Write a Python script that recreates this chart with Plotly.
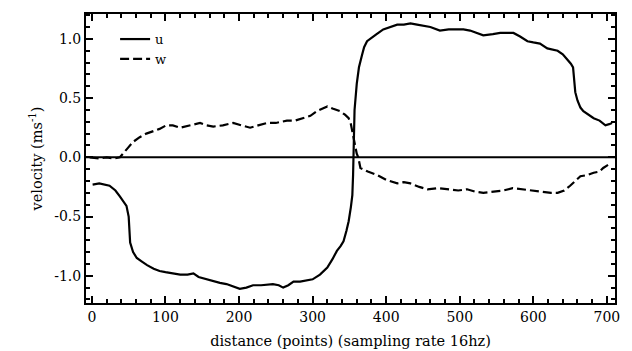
import plotly.graph_objects as go

# u velocity (solid)
u_x = [1, 10, 24, 32, 38, 44, 47, 50, 52, 56, 61, 68, 75, 84, 92, 100, 110, 120, 130, 138, 145, 156, 165, 174, 183, 192, 201, 210, 219, 230, 246, 254, 260, 267, 274, 283, 292, 300, 310, 320, 327, 333, 338, 342, 346, 349, 352, 354, 355, 356, 357, 360, 363, 367, 370, 374, 380, 387, 396, 405, 415, 424, 433, 442, 450, 460, 473, 485, 496, 505, 514, 523, 532, 545, 555, 565, 573, 582, 592, 600, 609, 619, 626, 633, 640, 646, 651, 654, 656, 657, 660, 664, 668, 675, 682, 690, 698, 703, 707]
u_y = [-0.23, -0.22, -0.24, -0.28, -0.33, -0.38, -0.41, -0.5, -0.72, -0.8, -0.85, -0.88, -0.91, -0.94, -0.96, -0.97, -0.98, -0.99, -0.99, -0.98, -1.01, -1.03, -1.04, -1.06, -1.07, -1.09, -1.11, -1.10, -1.08, -1.08, -1.07, -1.08, -1.10, -1.08, -1.05, -1.05, -1.04, -1.03, -0.99, -0.93, -0.86, -0.79, -0.75, -0.71, -0.62, -0.54, -0.42, -0.32, -0.15, 0.1, 0.4, 0.62, 0.76, 0.86, 0.93, 0.98, 1.01, 1.04, 1.08, 1.10, 1.12, 1.12, 1.13, 1.12, 1.11, 1.10, 1.07, 1.08, 1.08, 1.08, 1.07, 1.05, 1.03, 1.04, 1.05, 1.05, 1.05, 1.02, 0.98, 0.97, 0.96, 0.92, 0.91, 0.90, 0.87, 0.83, 0.79, 0.76, 0.65, 0.55, 0.48, 0.42, 0.39, 0.36, 0.33, 0.31, 0.27, 0.28, 0.29]

# w velocity (dashed)
w_x = [-3, 10, 20, 30, 38, 44, 49, 56, 65, 74, 83, 92, 101, 110, 120, 132, 147, 156, 165, 178, 192, 203, 215, 226, 238, 250, 265, 276, 287, 297, 306, 313, 320, 328, 337, 344, 349, 352, 354, 356, 358, 360, 362, 365, 375, 388, 400, 415, 424, 433, 445, 456, 470, 487, 498, 510, 521, 532, 545, 559, 572, 586, 600, 614, 624, 633, 642, 650, 657, 664, 673, 682, 690, 695, 700, 705]
w_y = [0.0, -0.01, 0.0, -0.01, 0.0, 0.04, 0.08, 0.13, 0.17, 0.2, 0.22, 0.24, 0.27, 0.27, 0.25, 0.27, 0.29, 0.27, 0.26, 0.27, 0.29, 0.27, 0.25, 0.27, 0.29, 0.29, 0.31, 0.31, 0.33, 0.35, 0.39, 0.41, 0.43, 0.41, 0.39, 0.36, 0.33, 0.28, 0.22, 0.15, 0.08, 0.03, 0.0, -0.09, -0.12, -0.15, -0.19, -0.22, -0.21, -0.22, -0.25, -0.27, -0.26, -0.27, -0.28, -0.27, -0.29, -0.3, -0.29, -0.28, -0.26, -0.27, -0.28, -0.29, -0.3, -0.3, -0.28, -0.24, -0.2, -0.16, -0.15, -0.13, -0.12, -0.09, -0.07, -0.05]

x_ticks = [0, 100, 200, 300, 400, 500, 600, 700]
y_ticks = [-1.0, -0.5, 0.0, 0.5, 1.0]
y_tick_labels = ["-1.0", "-0.5", "0.0", "0.5", "1.0"]

FONT = "DejaVu Serif"

fig = go.Figure()
fig.add_trace(go.Scatter(x=u_x, y=u_y, mode="lines", name="u",
                         line=dict(color="black", width=2.2)))
fig.add_trace(go.Scatter(x=w_x, y=w_y, mode="lines", name="w",
                         line=dict(color="black", width=2.2, dash="9px,4px")))

fig.add_hline(y=0, line=dict(color="black", width=2))

axis_common = dict(
    showgrid=False, zeroline=False, showline=True, linecolor="black", linewidth=2,
    mirror="ticks", ticks="inside", tickcolor="black", tickwidth=2, ticklen=7,
    tickfont=dict(family=FONT, size=14, color="black"), automargin=False,
)

fig.update_xaxes(range=[-8, 711], tickvals=x_ticks,
                 minor=dict(dtick=20, tick0=0, ticks="inside", ticklen=4, tickcolor="black", tickwidth=1.5),
                 title=dict(text="distance (points) (sampling rate 16hz)",
                            font=dict(family=FONT, size=14.5, color="black"), standoff=12),
                 **axis_common)
fig.update_yaxes(range=[-1.23, 1.21], tickvals=y_ticks, ticktext=y_tick_labels,
                 minor=dict(dtick=0.1, tick0=0, ticks="inside", ticklen=4, tickcolor="black", tickwidth=1.5),
                 title=dict(text="velocity (ms<sup>-1</sup>)",
                            font=dict(family=FONT, size=14.5, color="black"), standoff=8),
                 **axis_common)

fig.update_layout(
    width=632, height=351,
    margin=dict(l=86, r=17, t=14, b=48),
    plot_bgcolor="white", paper_bgcolor="white",
    font=dict(family=FONT, size=14, color="black"),
    legend=dict(x=0.055, y=0.965, xanchor="left", yanchor="top",
                bgcolor="rgba(0,0,0,0)", font=dict(family=FONT, size=13),
                tracegroupgap=0, itemwidth=30),
)

fig.write_html("out.html")
